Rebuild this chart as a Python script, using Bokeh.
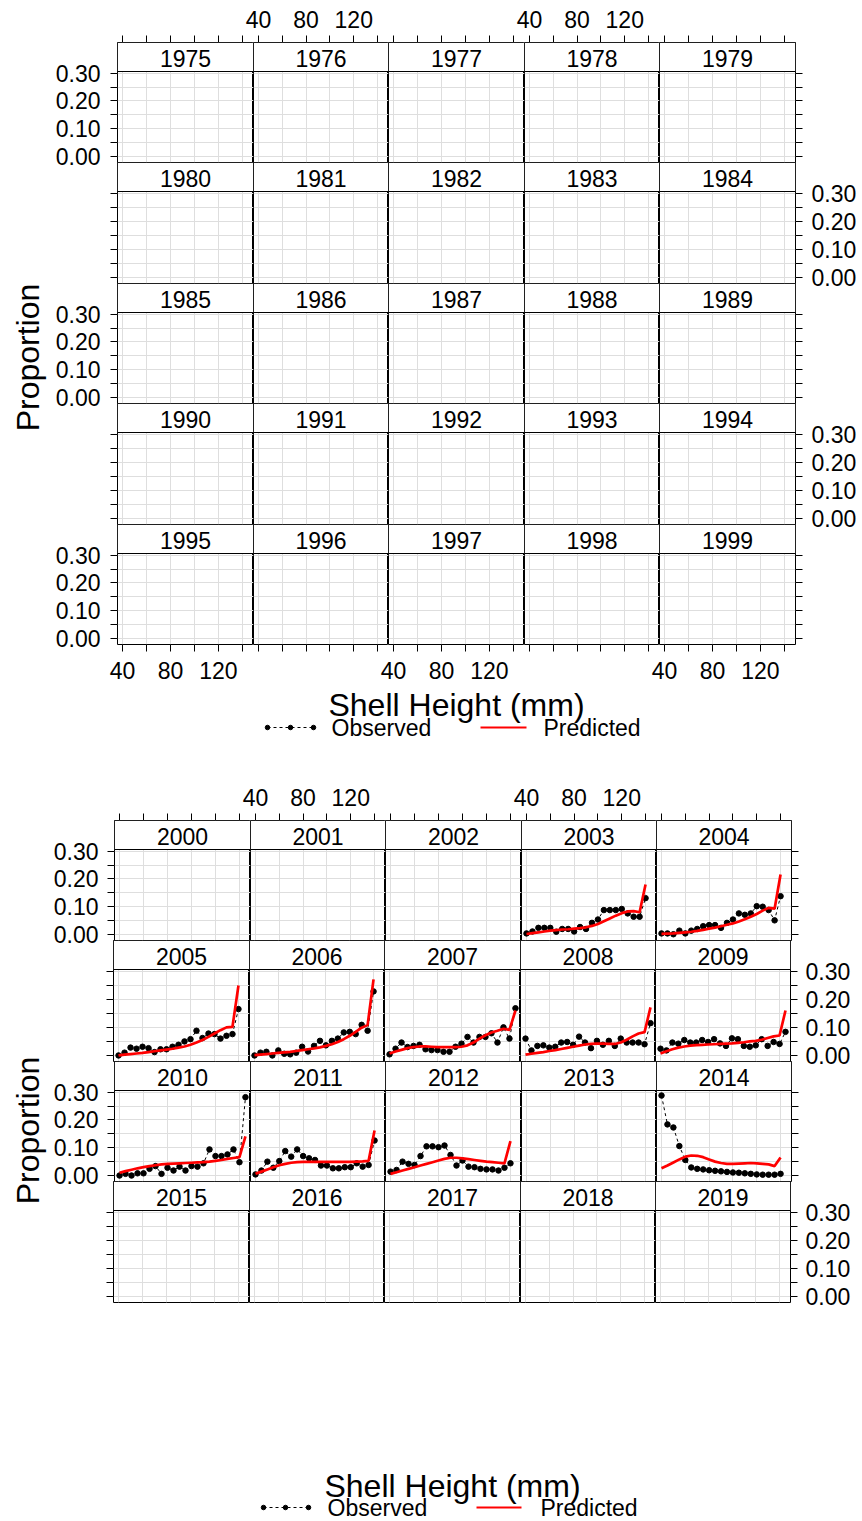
import numpy as np
from bokeh.plotting import figure
from bokeh.models import (Range1d, LinearAxis, FixedTicker, NumeralTickFormatter,
                          BoxAnnotation, Label, ColumnDataSource)
from bokeh.layouts import column, row
from bokeh.embed import file_html
from bokeh.resources import INLINE
from bokeh.core.properties import value

FONT = "Liberation Sans"

# ---------------- data ----------------
years_page1 = list(range(1975, 2000))
years_page2 = list(range(2000, 2020))

shell_height_140 = [40, 45, 50, 55, 60, 65, 70, 75, 80, 85, 90, 95, 100, 105,
                    110, 115, 120, 125, 130, 135, 140]
shell_height_145 = [40, 45, 50, 55, 60, 65, 70, 75, 80, 85, 90, 95, 100, 105,
                    110, 115, 120, 125, 130, 135, 140, 145]

obs_2003 = [0.004, 0.011, 0.024, 0.024, 0.024, 0.010, 0.020, 0.020, 0.011, 0.027, 0.020,
            0.042, 0.054, 0.088, 0.088, 0.088, 0.092, 0.076, 0.064, 0.064, 0.131]
pred_2003 = [0.002, 0.005, 0.008, 0.011, 0.014, 0.016, 0.018, 0.019, 0.021, 0.023, 0.026,
             0.031, 0.038, 0.048, 0.058, 0.068, 0.077, 0.083, 0.084, 0.080, 0.180]
obs_2004 = [0.004, 0.004, 0.001, 0.014, 0.004, 0.014, 0.020, 0.030, 0.034, 0.034, 0.024,
            0.042, 0.054, 0.076, 0.071, 0.076, 0.102, 0.100, 0.088, 0.051, 0.138]
pred_2004 = [0.002, 0.003, 0.004, 0.006, 0.008, 0.010, 0.013, 0.017, 0.021, 0.025, 0.030,
             0.035, 0.040, 0.047, 0.055, 0.064, 0.074, 0.086, 0.096, 0.093, 0.216]
obs_2005 = [0.000, 0.010, 0.028, 0.024, 0.031, 0.026, 0.012, 0.022, 0.022, 0.031, 0.038,
            0.050, 0.058, 0.088, 0.062, 0.078, 0.076, 0.060, 0.070, 0.076, 0.165]
pred_2005 = [0.000, 0.003, 0.005, 0.007, 0.009, 0.012, 0.015, 0.018, 0.021, 0.024, 0.028,
             0.032, 0.038, 0.046, 0.055, 0.066, 0.078, 0.090, 0.100, 0.102, 0.249]
obs_2006 = [0.000, 0.010, 0.013, 0.000, 0.018, 0.006, 0.004, 0.010, 0.031, 0.014, 0.034,
            0.052, 0.036, 0.052, 0.060, 0.082, 0.084, 0.076, 0.109, 0.088, 0.228]
pred_2006 = [0.001, 0.003, 0.005, 0.007, 0.009, 0.011, 0.013, 0.016, 0.019, 0.022, 0.025,
             0.029, 0.034, 0.040, 0.048, 0.058, 0.070, 0.084, 0.099, 0.108, 0.271]
obs_2007 = [0.004, 0.024, 0.046, 0.030, 0.034, 0.038, 0.022, 0.019, 0.019, 0.013, 0.013,
            0.031, 0.042, 0.066, 0.046, 0.066, 0.066, 0.079, 0.046, 0.100, 0.060, 0.168]
pred_2007 = [0.007, 0.014, 0.020, 0.026, 0.030, 0.032, 0.032, 0.031, 0.030, 0.030, 0.030,
             0.030, 0.031, 0.036, 0.046, 0.060, 0.072, 0.082, 0.088, 0.095, 0.091, 0.160]
obs_2008 = [0.060, 0.018, 0.034, 0.036, 0.028, 0.031, 0.046, 0.048, 0.038, 0.067, 0.046,
            0.026, 0.052, 0.038, 0.052, 0.034, 0.060, 0.046, 0.046, 0.046, 0.040, 0.115]
pred_2008 = [0.003, 0.006, 0.009, 0.012, 0.016, 0.019, 0.023, 0.027, 0.031, 0.035, 0.039,
             0.041, 0.042, 0.042, 0.041, 0.041, 0.046, 0.056, 0.068, 0.078, 0.083, 0.171]
obs_2009 = [0.024, 0.018, 0.046, 0.042, 0.055, 0.046, 0.046, 0.055, 0.048, 0.058, 0.043,
            0.034, 0.061, 0.058, 0.034, 0.031, 0.036, 0.058, 0.034, 0.048, 0.041, 0.084]
pred_2009 = [0.007, 0.015, 0.022, 0.028, 0.032, 0.035, 0.037, 0.038, 0.039, 0.040, 0.041,
             0.042, 0.043, 0.045, 0.047, 0.050, 0.052, 0.056, 0.062, 0.068, 0.071, 0.160]
obs_2010 = [0.000, 0.006, 0.000, 0.008, 0.008, 0.024, 0.034, 0.006, 0.028, 0.018, 0.032,
            0.018, 0.034, 0.032, 0.044, 0.094, 0.070, 0.070, 0.076, 0.094, 0.048, 0.282]
pred_2010 = [0.010, 0.016, 0.021, 0.026, 0.030, 0.034, 0.037, 0.040, 0.042, 0.043, 0.044,
             0.045, 0.046, 0.047, 0.048, 0.050, 0.053, 0.056, 0.060, 0.063, 0.066, 0.141]
obs_2011 = [0.004, 0.018, 0.050, 0.028, 0.052, 0.088, 0.068, 0.094, 0.070, 0.062, 0.056,
            0.036, 0.036, 0.026, 0.026, 0.030, 0.030, 0.044, 0.032, 0.038, 0.126]
pred_2011 = [0.006, 0.014, 0.022, 0.030, 0.037, 0.042, 0.046, 0.048, 0.049, 0.049, 0.049,
             0.049, 0.049, 0.049, 0.049, 0.049, 0.049, 0.050, 0.051, 0.053, 0.162]
obs_2012 = [0.014, 0.020, 0.050, 0.042, 0.038, 0.070, 0.105, 0.105, 0.102, 0.108, 0.074,
            0.036, 0.054, 0.032, 0.030, 0.024, 0.022, 0.022, 0.018, 0.028, 0.044]
pred_2012 = [0.006, 0.012, 0.018, 0.024, 0.030, 0.036, 0.042, 0.048, 0.054, 0.060, 0.064,
             0.064, 0.062, 0.059, 0.056, 0.053, 0.050, 0.048, 0.046, 0.044, 0.124]
obs_2014 = [0.288, 0.184, 0.173, 0.106, 0.056, 0.029, 0.024, 0.022, 0.019, 0.017, 0.015,
            0.013, 0.011, 0.010, 0.008, 0.006, 0.004, 0.003, 0.003, 0.003, 0.006]
pred_2014 = [0.026, 0.036, 0.047, 0.058, 0.068, 0.072, 0.071, 0.066, 0.058, 0.050, 0.045,
             0.042, 0.042, 0.043, 0.044, 0.045, 0.044, 0.042, 0.040, 0.034, 0.065]

series = {
    2003: (shell_height_140, obs_2003, pred_2003),
    2004: (shell_height_140, obs_2004, pred_2004),
    2005: (shell_height_140, obs_2005, pred_2005),
    2006: (shell_height_140, obs_2006, pred_2006),
    2007: (shell_height_145, obs_2007, pred_2007),
    2008: (shell_height_145, obs_2008, pred_2008),
    2009: (shell_height_145, obs_2009, pred_2009),
    2010: (shell_height_145, obs_2010, pred_2010),
    2011: (shell_height_140, obs_2011, pred_2011),
    2012: (shell_height_140, obs_2012, pred_2012),
    2014: (shell_height_140, obs_2014, pred_2014),
}

x_tick_labels = [40, 80, 120]
x_minor = [60, 100, 140]
x_all_ticks = [40, 60, 80, 100, 120, 140]
y_tick_labels = [0.0, 0.1, 0.2, 0.3]
y_minor = [0.05, 0.15, 0.25]
y_all_ticks = [0.0, 0.05, 0.1, 0.15, 0.2, 0.25, 0.3]

X_RANGE = (35.8, 149.2)
Y_RANGE = (-0.0215, 0.306)
STRIP_PX = 29
TICK_PX = 23
EXT_L = 16   # transparent overhang to the left (labels that cross a cell edge)
EXT_B = 14   # transparent overhang below


def style_axis(ax, standoff):
    ax.axis_line_color = None
    ax.major_tick_in = 0
    ax.major_tick_out = 7
    ax.minor_tick_in = 0
    ax.minor_tick_out = 7
    ax.major_tick_line_color = "black"
    ax.minor_tick_line_color = "black"
    ax.major_label_text_font = FONT
    ax.major_label_text_font_size = f"{TICK_PX}px"
    ax.major_label_text_color = "black"
    ax.major_label_standoff = standoff


def x_axis(labeled, standoff):
    if labeled:
        t = FixedTicker(ticks=x_tick_labels, minor_ticks=x_minor)
    else:
        t = FixedTicker(ticks=[], minor_ticks=x_all_ticks)
    ax = LinearAxis(ticker=t)
    style_axis(ax, standoff)
    return ax


def y_axis(labeled, standoff):
    if labeled:
        t = FixedTicker(ticks=y_tick_labels, minor_ticks=y_minor)
    else:
        t = FixedTicker(ticks=[], minor_ticks=y_all_ticks)
    ax = LinearAxis(ticker=t, formatter=NumeralTickFormatter(format="0.00"))
    style_axis(ax, standoff)
    return ax


def panel(year, fw, fh, ml, mr, mt, mb, ext_l, ext_b):
    pan_px = fh - STRIP_PX
    scale = (Y_RANGE[1] - Y_RANGE[0]) / pan_px
    ytop = Y_RANGE[0] + scale * fh
    p = figure(width=fw + ml + mr + ext_l, height=fh + mt + mb + ext_b,
               frame_width=fw, frame_height=fh,
               x_range=Range1d(*X_RANGE), y_range=Range1d(Y_RANGE[0], ytop),
               output_backend="svg", toolbar_location=None,
               x_axis_location=None, y_axis_location=None,
               min_border=0, min_border_left=ml + ext_l, min_border_right=mr,
               min_border_top=mt, min_border_bottom=mb + ext_b,
               margin=(0, 0, -ext_b, -ext_l))
    p.outline_line_color = "black"
    p.outline_line_width = 1
    p.background_fill_color = "white"
    p.border_fill_alpha = 0.0
    p.xgrid.ticker = FixedTicker(ticks=x_all_ticks)
    p.ygrid.ticker = FixedTicker(ticks=y_all_ticks)
    p.grid.grid_line_color = "#dedede"
    p.grid.grid_line_width = 1

    if year in series:
        xs, obs, pred = series[year]
        src = ColumnDataSource(dict(x=xs, obs=obs, pred=pred))
        p.line("x", "obs", source=src, line_color="black", line_width=1, line_dash="3 3")
        p.scatter("x", "obs", source=src, size=5.5, fill_color="black", line_color="black")
        p.line("x", "pred", source=src, line_color="#ff0000", line_width=2.7)

    p.add_layout(BoxAnnotation(bottom=Y_RANGE[1], fill_color="white", fill_alpha=1.0,
                               line_color="black", line_width=1, line_alpha=1.0))
    p.add_layout(Label(x=(X_RANGE[0] + X_RANGE[1]) / 2, y=Y_RANGE[1] + scale * (STRIP_PX / 2 - 1),
                       text=str(year), text_align="center", text_baseline="middle",
                       text_font=FONT, text_font_size="23px", text_color="black"))
    return p


def deco_fig(w, h):
    f = figure(width=w, height=h, x_range=Range1d(0, w), y_range=Range1d(0, h),
               output_backend="svg", toolbar_location=None,
               x_axis_location=None, y_axis_location=None, min_border=0)
    f.outline_line_color = None
    f.grid.visible = False
    f.border_fill_alpha = 0.0
    f.background_fill_alpha = 0.0
    return f


def build_page(years, nrows, col_w, row_h, left_b, right_b, top_b, bottom_b,
               left_lab_rows, right_lab_rows, top_lab_cols, bottom_lab_cols,
               has_bottom_axis, std_l, std_r, std_t, std_b):
    ncols = len(col_w)
    rows = []
    for r in range(nrows):
        rr = []
        for c in range(ncols):
            year = years[r * ncols + c]
            ml = left_b if c == 0 else 0
            mr = right_b if c == ncols - 1 else 0
            mt = top_b if r == 0 else 0
            mb = bottom_b if r == nrows - 1 else 0
            ext_l = EXT_L if c > 0 else 0
            ext_b = EXT_B if r < nrows - 1 else 0
            p = panel(year, col_w[c], row_h[r], ml, mr, mt, mb, ext_l, ext_b)
            if c == 0:
                p.add_layout(y_axis(r in left_lab_rows, std_l), "left")
            if c == ncols - 1:
                p.add_layout(y_axis(r in right_lab_rows, std_r), "right")
            if r == 0:
                p.add_layout(x_axis(c in top_lab_cols, std_t), "above")
            if r == nrows - 1 and has_bottom_axis:
                p.add_layout(x_axis(c in bottom_lab_cols, std_b), "below")
            rr.append(p)
        rows.append(row(*rr, spacing=0))
    return column(*rows, spacing=0)


def ylabel_fig(w, h, xc, yc):
    f = deco_fig(w, h)
    f.text(x=[xc], y=[yc], text=["Proportion"], angle=np.pi / 2,
           text_font=value(FONT), text_font_size=value("32px"),
           text_align="center", text_baseline="middle", text_color="black")
    return f


def xlabel_fig(w, h, xc, y_lab, y_key, dots, obs_tx, red0, red1, pred_tx):
    f = deco_fig(w, h)
    f.text(x=[xc], y=[y_lab], text=["Shell Height (mm)"],
           text_font=value(FONT), text_font_size=value("32px"),
           text_align="center", text_baseline="middle", text_color="black")
    f.line(x=[dots[0], dots[-1]], y=[y_key, y_key], line_color="black",
           line_width=1, line_dash="3 3")
    f.scatter(x=dots, y=[y_key] * len(dots), size=4.5, fill_color="black", line_color="black")
    f.text(x=[obs_tx], y=[y_key], text=["Observed"], text_font=value(FONT),
           text_font_size=value("23px"), text_align="left", text_baseline="middle",
           text_color="black")
    f.line(x=[red0, red1], y=[y_key, y_key], line_color="#ff0000", line_width=2)
    f.text(x=[pred_tx], y=[y_key], text=["Predicted"], text_font=value(FONT),
           text_font_size=value("23px"), text_align="left", text_baseline="middle",
           text_color="black")
    return f


YLAB_W = 50

# ---------------- page 1 ----------------
g1 = build_page(years_page1, 5, [136, 135, 136, 135, 136], [120, 121, 120, 121, 120],
                left_b=67, right_b=67, top_b=42, bottom_b=44,
                left_lab_rows={0, 2, 4}, right_lab_rows={1, 3},
                top_lab_cols={1, 3}, bottom_lab_cols={0, 2, 4}, has_bottom_axis=True,
                std_l=10, std_r=9, std_t=8, std_b=10)
xl1 = xlabel_fig(862 - YLAB_W, 72, 456 - YLAB_W, 72 - 16, 72 - 39,
                 [267 - YLAB_W, 290 - YLAB_W, 313 - YLAB_W], 331 - YLAB_W,
                 480 - YLAB_W, 526 - YLAB_W, 543 - YLAB_W)
yl1 = ylabel_fig(YLAB_W, 760, 27, 760 - 357)
page1 = row(yl1, column(g1, xl1, spacing=0), spacing=0)

# ---------------- page 2 ----------------
g2 = build_page(years_page2, 4, [136, 135, 136, 135, 135], [120, 121, 120, 121],
                left_b=63, right_b=72, top_b=60, bottom_b=163,
                left_lab_rows={0, 2}, right_lab_rows={1, 3},
                top_lab_cols={1, 3}, bottom_lab_cols=set(), has_bottom_axis=False,
                std_l=9, std_r=8, std_t=8, std_b=10)
xl2 = xlabel_fig(862 - YLAB_W, 56, 452 - YLAB_W, 56 - 20, 56 - 42,
                 [263 - YLAB_W, 285 - YLAB_W, 308 - YLAB_W], 327 - YLAB_W,
                 476 - YLAB_W, 521 - YLAB_W, 540 - YLAB_W)
yl2 = ylabel_fig(YLAB_W, 761, 27, 761 - 370)
page2 = row(yl2, column(g2, xl2, spacing=0), spacing=0)

layout = column(page1, page2, spacing=0)

open("out.html", "w").write(file_html(layout, INLINE))
